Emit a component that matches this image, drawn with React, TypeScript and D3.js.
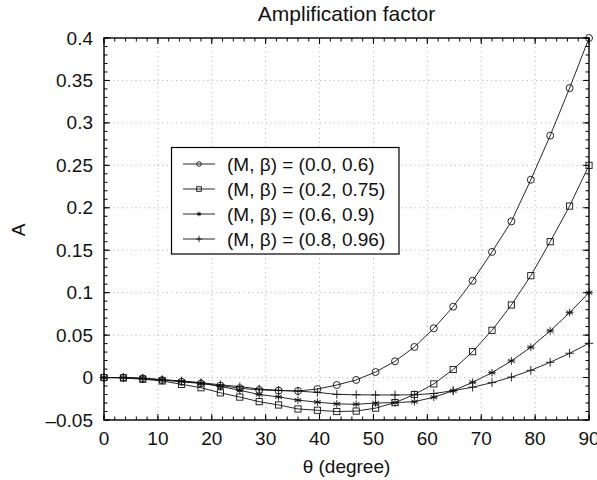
import React from "react";
import * as d3 from "d3";

const thetaStep = 3.6;
const circleA = [0, 0, -0.001, -0.003, -0.005, -0.007, -0.0095, -0.0125, -0.0146, -0.0154, -0.0158, -0.0135, -0.0088, -0.0028, 0.0065, 0.0192, 0.036, 0.058, 0.0835, 0.114, 0.148, 0.184, 0.233, 0.285, 0.341, 0.4];
const squareA = [0, -0.0005, -0.002, -0.004, -0.008, -0.012, -0.018, -0.023, -0.0284, -0.0323, -0.037, -0.0385, -0.040, -0.0395, -0.036, -0.0295, -0.020, -0.0075, 0.0095, 0.0305, 0.0557, 0.0855, 0.120, 0.160, 0.202, 0.25];
const starA = [0, 0, -0.001, -0.0025, -0.0045, -0.0065, -0.0105, -0.015, -0.020, -0.0228, -0.0266, -0.029, -0.031, -0.0315, -0.030, -0.0295, -0.0284, -0.0232, -0.0155, -0.0056, 0.0058, 0.0196, 0.0357, 0.055, 0.0765, 0.1];
const plusA = [0, 0, -0.001, -0.0025, -0.004, -0.006, -0.0085, -0.0107, -0.0135, -0.015, -0.016, -0.0175, -0.0198, -0.0203, -0.0205, -0.0205, -0.0203, -0.0188, -0.0155, -0.0114, -0.006, 0.0005, 0.0085, 0.018, 0.0286, 0.0404];

const seriesLabels = ["(M, β) = (0.0, 0.6)", "(M, β) = (0.2, 0.75)", "(M, β) = (0.6, 0.9)", "(M, β) = (0.8, 0.96)"];
const markerKinds = ["circle", "square", "star", "plus"];
const xTicks = [0, 10, 20, 30, 40, 50, 60, 70, 80, 90];
const yTicks = [-0.05, 0, 0.05, 0.1, 0.15, 0.2, 0.25, 0.3, 0.35, 0.4];
const yTickLabels = ["–0.05", "0", "0.05", "0.1", "0.15", "0.2", "0.25", "0.3", "0.35", "0.4"];

const L = 104, R = 589, T = 38, B = 420;
const FONT = "'Liberation Sans', Arial, Helvetica, sans-serif";

function Marker({ kind, x, y, s }: { kind: string; x: number; y: number; s: number }) {
  const st = { stroke: "#111", strokeWidth: 0.9, fill: "none" };
  if (kind === "circle") return <circle cx={x} cy={y} r={s} {...st} />;
  if (kind === "square") return <rect x={x - s} y={y - s} width={2 * s} height={2 * s} {...st} />;
  if (kind === "plus")
    return <path d={`M${x - s - 0.8},${y}H${x + s + 0.8}M${x},${y - s - 0.8}V${y + s + 0.8}`} {...st} />;
  const d = [0, 60, 120].map((a) => {
    const r = (a * Math.PI) / 180;
    const dx = Math.sin(r) * s, dy = Math.cos(r) * s;
    return `M${x - dx},${y - dy}L${x + dx},${y + dy}`;
  }).join("") + `M${x - s},${y}H${x + s}`;
  return <path d={d} {...st} />;
}

export default function App() {
  const W = 597, H = 480;
  const x = d3.scaleLinear().domain([0, 90]).range([L, R]);
  const y = d3.scaleLinear().domain([-0.05, 0.4]).range([B, T]);
  const all = [circleA, squareA, starA, plusA];
  const line = d3.line<number>().x((_, i) => x(i * thetaStep)).y((d) => y(d));
  const xMinor = d3.range(0, 90.01, 2);
  const yMinor = d3.range(-0.05, 0.4001, 0.01);

  return (
    <svg width={W} height={H} style={{ position: "absolute", left: 0, top: 0, background: "#fff" }} fontFamily={FONT}>
      <rect width={W} height={H} fill="#fff" />
      {xTicks.slice(1, -1).map((t) => (
        <line key={"gx" + t} x1={x(t)} x2={x(t)} y1={T} y2={B} stroke="#999" strokeWidth={0.8} strokeDasharray="1,3.5" />
      ))}
      {yTicks.slice(1, -1).map((t) => (
        <line key={"gy" + t} x1={L} x2={R} y1={y(t)} y2={y(t)} stroke="#999" strokeWidth={0.8} strokeDasharray="1,3.5" />
      ))}
      {xMinor.map((t) => (
        <g key={"mx" + t} stroke="#000" strokeWidth={1}>
          <line x1={x(t)} x2={x(t)} y1={B} y2={B - 3.5} />
          <line x1={x(t)} x2={x(t)} y1={T} y2={T + 3.5} />
        </g>
      ))}
      {yMinor.map((t, i) => (
        <g key={"my" + i} stroke="#000" strokeWidth={1}>
          <line x1={L} x2={L + 3.5} y1={y(t)} y2={y(t)} />
          <line x1={R} x2={R - 3.5} y1={y(t)} y2={y(t)} />
        </g>
      ))}
      {xTicks.map((t) => (
        <g key={"tx" + t} stroke="#000" strokeWidth={1}>
          <line x1={x(t)} x2={x(t)} y1={B} y2={B - 6} />
          <line x1={x(t)} x2={x(t)} y1={T} y2={T + 6} />
        </g>
      ))}
      {yTicks.map((t) => (
        <g key={"ty" + t} stroke="#000" strokeWidth={1}>
          <line x1={L} x2={L + 6} y1={y(t)} y2={y(t)} />
          <line x1={R} x2={R - 6} y1={y(t)} y2={y(t)} />
        </g>
      ))}
      {all.map((vals, si) => (
        <g key={"s" + si}>
          <path d={line(vals) || ""} fill="none" stroke="#111" strokeWidth={0.9} />
          {vals.map((v, i) => (
            <Marker key={i} kind={markerKinds[si]} x={x(i * thetaStep)} y={y(v)} s={si === 1 ? 3.1 : si === 2 ? 3.8 : 3.5} />
          ))}
        </g>
      ))}
      <rect x={L} y={T} width={R - L} height={B - T} fill="none" stroke="#000" strokeWidth={1.4} />
      {xTicks.map((t) => (
        <text key={"lx" + t} x={x(t)} y={445} fontSize={19} textAnchor="middle" fill="#111">{t}</text>
      ))}
      {yTicks.map((t, i) => (
        <text key={"ly" + t} x={93} y={y(t) + 6.5} fontSize={19} textAnchor="end" fill="#111">{yTickLabels[i]}</text>
      ))}
      <text x={(L + R) / 2} y={21} fontSize={21} textAnchor="middle" fill="#111">Amplification factor</text>
      <text x={(L + R) / 2} y={473} fontSize={19} textAnchor="middle" fill="#111">θ (degree)</text>
      <text transform={`translate(25,${(T + B) / 2 + 1}) rotate(-90)`} fontSize={19} textAnchor="middle" fill="#111">A</text>
      <rect x={171.5} y={147.5} width={227.5} height={106.5} fill="#fff" stroke="#000" strokeWidth={1.2} />
      {seriesLabels.map((lab, i) => {
        const ly = 164 + i * 25;
        return (
          <g key={"lg" + i}>
            <line x1={183} x2={215} y1={ly} y2={ly} stroke="#111" strokeWidth={0.9} />
            <Marker kind={markerKinds[i]} x={199} y={ly} s={2.3} />
            <text x={227} y={ly + 6.5} fontSize={19} fill="#111">{lab}</text>
          </g>
        );
      })}
    </svg>
  );
}
